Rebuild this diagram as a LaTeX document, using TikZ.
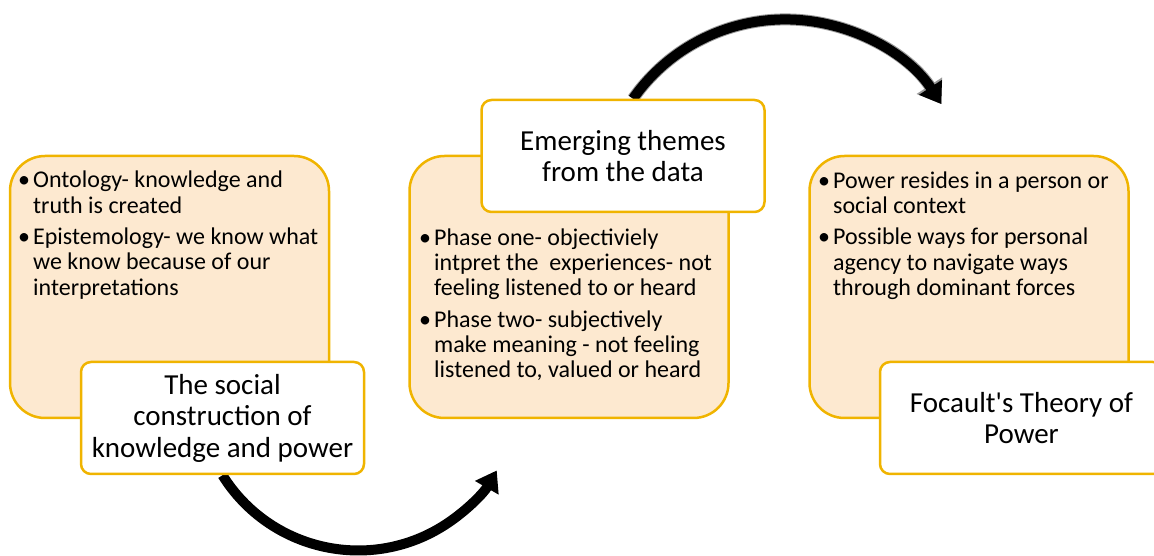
\documentclass[tikz,border=0pt]{standalone}
\usepackage{fontspec}
\setmainfont{Carlito}
\usetikzlibrary{arrows.meta,backgrounds}
\definecolor{gold}{RGB}{240,180,0}
\definecolor{peach}{RGB}{253,233,208}
\newcommand\bul{\textbullet\hspace{3pt}}
\newcommand\ind{\phantom{\bul}}

\begin{document}
\begin{tikzpicture}[x=1pt,y=1pt,
    panel/.style={draw=gold,line width=2.5pt,fill=peach,rounded corners=35pt,
      minimum width=319pt,minimum height=262pt},
    tag/.style={draw=gold,line width=2.5pt,fill=white,rounded corners=10pt,
      minimum width=283pt,minimum height=112pt,align=center,
      font=\fontsize{29}{31.5}\selectfont},
    points/.style={anchor=north west,inner sep=0pt,align=left,
      font=\fontsize{24}{25.3}\selectfont},
    curvearrow/.style={line width=10pt,-{Triangle[length=20pt,width=26pt]}},
    glow/.style={line width=12pt,draw=black!40,-{Triangle[length=22pt,width=29pt]}}]
  \clip (0,0) rectangle (1154,556);

  % the three steps
  \node[panel] (p1) at (169.5,269) {};
  \node[panel] (p2) at (569,269) {};
  \node[panel] (p3) at (969,269) {};

  \node[points] (t1) at (18,385) {\bul Ontology- knowledge and\\
    \ind truth is created\\[6pt]
    \bul Epistemology- we know what\\
    \ind we know because of our\\
    \ind interpretations};
  \node[points] (t2) at (419,327.5) {\bul Phase one- objectiviely\\
    \ind intpret the\ \ experiences- not\\
    \ind feeling listened to or heard\\[6pt]
    \bul Phase two- subjectively\\
    \ind make meaning - not feeling\\
    \ind listened to, valued or heard};
  \node[points] (t3) at (818,384.5) {\bul Power resides in a person or\\
    \ind social context\\[6pt]
    \bul Possible ways for personal\\
    \ind agency to navigate ways\\
    \ind through dominant forces};

  % titles on top of the panels
  \node[tag] (l1) at (222.5,138) {The social\\construction of\\knowledge and power};
  \node[tag] (l2) at (623,400) {Emerging themes\\from the data};
  \node[tag] (l3) at (1021.5,138) {Focault\textquotesingle s Theory of\\Power};

  % curved arrows between the steps
  \begin{scope}[on background layer]
    \draw[curvearrow] (l1.south) arc[start angle=212,end angle=330,radius=160];
    \draw[glow] ([xshift=10pt]l2.north) arc[start angle=145,end angle=33,radius=186];
    \draw[curvearrow] ([xshift=10pt]l2.north) arc[start angle=145,end angle=33,radius=186];
  \end{scope}
\end{tikzpicture}
\end{document}
